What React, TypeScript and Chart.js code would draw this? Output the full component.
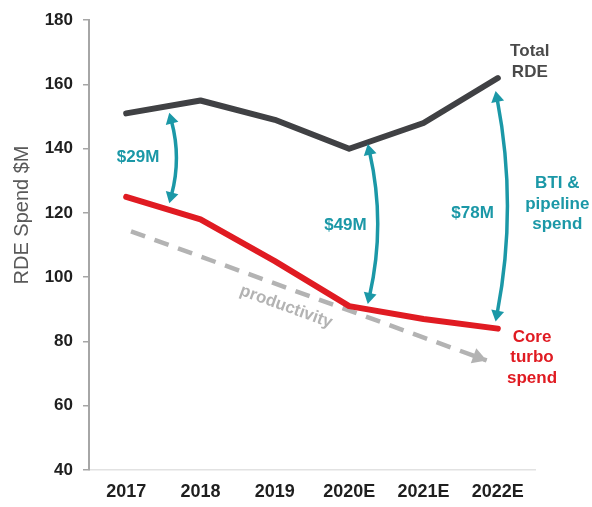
import React, { useEffect, useRef } from 'react';
import { Chart, registerables } from 'chart.js';

Chart.register(...registerables);

const years = ['2017', '2018', '2019', '2020E', '2021E', '2022E'];
const totalRDE = [151, 155, 149, 140, 148, 162];
const coreTurbo = [125, 118, 105, 91, 87, 84];
const productivityX = [0.065, 4.85];
const productivityY = [114.3, 74.1];
const yTicks = [40, 60, 80, 100, 120, 140, 160, 180];

const gapLabels = ['$29M', '$49M', '$78M'];
const gapX = [0.58, 3.25, 4.97];
const gapTop = [151.2, 141.5, 158];
const gapBottom = [123, 91.7, 86.2];

const FONT = '"Liberation Sans", Arial, sans-serif';
const TEAL = '#1b98a7';
const RED = '#e01b22';
const DARK = '#404144';
const GREY = '#b3b3b3';

// annotation layout (pixel styling kept separate from data)
const gapBow = [12, 18, 22];
const gapLabelPos = [
  { x: 0.16, y: 137.3 },
  { x: 2.95, y: 116.2 },
  { x: 4.66, y: 119.9 },
];

function head(ctx: CanvasRenderingContext2D, tx: number, ty: number, fx: number, fy: number, len: number, half: number) {
  const a = Math.atan2(ty - fy, tx - fx);
  const bx = tx - len * Math.cos(a);
  const by = ty - len * Math.sin(a);
  ctx.beginPath();
  ctx.moveTo(tx, ty);
  ctx.lineTo(bx + half * Math.sin(a), by - half * Math.cos(a));
  ctx.lineTo(bx - half * Math.sin(a), by + half * Math.cos(a));
  ctx.closePath();
  ctx.fill();
}

const overlay = {
  id: 'overlay',
  afterDatasetsDraw(chart: any) {
    const { ctx } = chart;
    const xs = chart.scales.x;
    const ys = chart.scales.y;
    const px = (v: number) => xs.getPixelForValue(v);
    const py = (v: number) => ys.getPixelForValue(v);
    ctx.save();

    // productivity arrow head
    const p0x = px(productivityX[0]);
    const p0y = py(productivityY[0]);
    const p1x = px(productivityX[1]);
    const p1y = py(productivityY[1]);
    ctx.fillStyle = GREY;
    head(ctx, p1x, p1y, p0x, p0y, 14, 8);

    // gap arrows
    ctx.strokeStyle = TEAL;
    ctx.fillStyle = TEAL;
    ctx.lineWidth = 3.5;
    gapX.forEach((gx, i) => {
      const x0 = px(gx);
      const yT = py(gapTop[i]);
      const yB = py(gapBottom[i]);
      const cx = x0 + gapBow[i];
      const cy = (yT + yB) / 2;
      const len = 11;
      // shorten ends toward control point
      const dT = Math.hypot(cx - x0, cy - yT);
      const dB = Math.hypot(cx - x0, cy - yB);
      const sTx = x0 + ((cx - x0) * (len - 2)) / dT;
      const sTy = yT + ((cy - yT) * (len - 2)) / dT;
      const sBx = x0 + ((cx - x0) * (len - 2)) / dB;
      const sBy = yB + ((cy - yB) * (len - 2)) / dB;
      ctx.beginPath();
      ctx.moveTo(sTx, sTy);
      ctx.quadraticCurveTo(cx, cy, sBx, sBy);
      ctx.stroke();
      head(ctx, x0, yT, cx, cy, len, 6.5);
      head(ctx, x0, yB, cx, cy, len, 6.5);
    });

    ctx.textAlign = 'center';
    ctx.textBaseline = 'middle';
    ctx.font = `bold 17px ${FONT}`;
    ctx.fillStyle = TEAL;
    gapLabels.forEach((t, i) => {
      ctx.fillText(t, px(gapLabelPos[i].x), py(gapLabelPos[i].y));
    });

    const lines = (arr: string[], cx: number, cy: number, lh: number, color: string) => {
      ctx.fillStyle = color;
      arr.forEach((t, i) => {
        ctx.fillText(t, cx, cy + (i - (arr.length - 1) / 2) * lh);
      });
    };
    lines(['Total', 'RDE'], px(5.43), py(167.1), 20.5, '#4a4a4a');
    lines(['BTI &', 'pipeline', 'spend'], px(5.80), py(122.7), 20.5, TEAL);
    lines(['Core', 'turbo', 'spend'], px(5.46), py(75.0), 20.5, RED);

    // productivity label
    const ang = Math.atan2(p1y - p0y, p1x - p0x);
    ctx.save();
    ctx.translate(px(2.15), py(90.8));
    ctx.rotate(ang);
    ctx.fillStyle = GREY;
    ctx.fillText('productivity', 0, 0);
    ctx.restore();

    // y axis title
    ctx.save();
    ctx.translate(22, 215);
    ctx.rotate(-Math.PI / 2);
    ctx.font = `20px ${FONT}`;
    ctx.fillStyle = '#595959';
    ctx.fillText('RDE Spend $M', 0, 0);
    ctx.restore();

    ctx.restore();
  },
};

export default function App() {
  const ref = useRef<HTMLCanvasElement | null>(null);
  useEffect(() => {
    if (!ref.current) return;
    const chart = new Chart(ref.current, {
      type: 'line',
      data: {
        datasets: [
          {
            data: years.map((_, i) => ({ x: i, y: coreTurbo[i] })),
            borderColor: RED,
            borderWidth: 6,
            pointRadius: 0,
            borderCapStyle: 'round',
            borderJoinStyle: 'round',
            tension: 0,
          },
          {
            data: years.map((_, i) => ({ x: i, y: totalRDE[i] })),
            borderColor: DARK,
            borderWidth: 6,
            pointRadius: 0,
            borderCapStyle: 'round',
            borderJoinStyle: 'round',
            tension: 0,
          },
          {
            data: productivityX.map((x, i) => ({ x, y: productivityY[i] })),
            borderColor: GREY,
            borderWidth: 4.5,
            borderDash: [15, 10],
            pointRadius: 0,
            tension: 0,
          },
        ],
      },
      options: {
        animation: false,
        responsive: false,
        layout: { padding: { left: 0, right: 57, top: 18, bottom: 0 } },
        plugins: { legend: { display: false }, tooltip: { enabled: false } },
        scales: {
          x: {
            type: 'linear',
            min: -0.5,
            max: 5.5,
            afterBuildTicks: (s: any) => {
              s.ticks = years.map((_, i) => ({ value: i }));
            },
            afterFit: (s: any) => {
              s.height = 37;
            },
            ticks: {
              autoSkip: false,
              maxRotation: 0,
              padding: 11,
              color: '#1f1f1f',
              font: { family: FONT, size: 18, weight: 'bold' },
              callback: (v: any) => years[v as number],
            },
            grid: { display: false, drawTicks: false },
            border: { display: true, color: '#e2e2e2', width: 1.5 },
          },
          y: {
            type: 'linear',
            min: 40,
            max: 180,
            afterBuildTicks: (s: any) => {
              s.ticks = yTicks.map((v) => ({ value: v }));
            },
            afterFit: (s: any) => {
              s.width = 89;
            },
            ticks: {
              padding: 10,
              color: '#1f1f1f',
              font: { family: FONT, size: 17, weight: 'bold' },
            },
            grid: {
              drawOnChartArea: false,
              drawTicks: true,
              tickLength: 6,
              color: '#a6a6a6',
              lineWidth: 1.5,
            },
            border: { display: true, color: '#a6a6a6', width: 2 },
          },
        },
      },
      plugins: [overlay],
    } as any);
    return () => chart.destroy();
  }, []);
  return (
    <div style={{ position: 'fixed', left: 0, top: 0, width: 592, height: 507, background: '#fff' }}>
      <canvas ref={ref} width={592} height={507} style={{ display: 'block' }} />
    </div>
  );
}
